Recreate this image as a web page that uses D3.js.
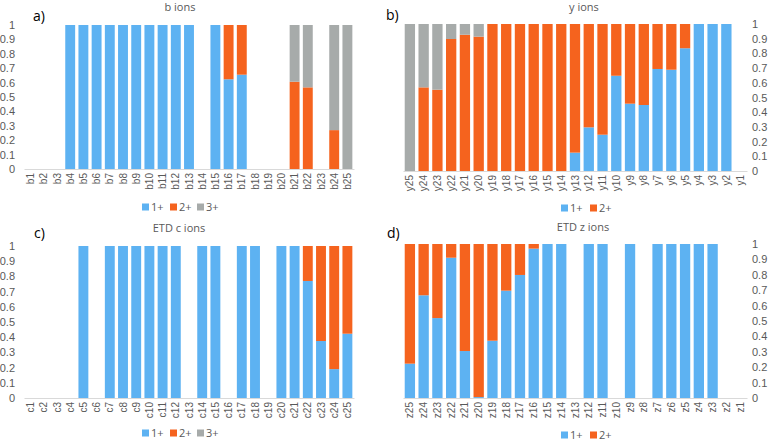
<!DOCTYPE html>
<html>
<head>
<meta charset="utf-8">
<script src="https://cdn.jsdelivr.net/npm/d3@7"></script>
<style>
  body { margin: 0; background: #fff; }
  svg { font-family: "Open Sans", "Noto Sans", sans-serif; }
</style>
</head>
<body>
<svg width="773" height="443"></svg>
<script>
// charge state fractions
const bCats = d3.range(1, 26).map(i => 'b' + i);
const bOne   = [0,0,0,1,1,1,1,1,1,1,1,1,1,0,1,0.623,0.655,0,0,0,0,0,0,0,0];
const bTwo   = [0,0,0,0,0,0,0,0,0,0,0,0,0,0,0,0.377,0.345,0,0,0,0.606,0.567,0,0.27,0];
const bThree = [0,0,0,0,0,0,0,0,0,0,0,0,0,0,0,0,0,0,0,0,0.394,0.433,0,0.73,1];

const yCats = d3.range(25, 0, -1).map(i => 'y' + i);
const yOne   = [0,0,0,0,0,0,0,0,0,0,0,0,0.125,0.297,0.247,0.648,0.458,0.449,0.694,0.689,0.835,1,1,1,0];
const yTwo   = [0,0.569,0.553,0.898,0.927,0.914,1,1,1,1,1,1,0.875,0.703,0.753,0.352,0.542,0.551,0.306,0.311,0.165,0,0,0,0];
const yThree = [1,0.431,0.447,0.102,0.073,0.086,0,0,0,0,0,0,0,0,0,0,0,0,0,0,0,0,0,0,0];

const cCats = d3.range(1, 26).map(i => 'c' + i);
const cOne   = [0,0,0,0,1,0,1,1,1,1,1,1,0,1,1,0,1,1,0,1,1,0.77,0.375,0.19,0.423];
const cTwo   = [0,0,0,0,0,0,0,0,0,0,0,0,0,0,0,0,0,0,0,0,0,0.23,0.625,0.81,0.577];
const cThree = [0,0,0,0,0,0,0,0,0,0,0,0,0,0,0,0,0,0,0,0,0,0,0,0,0];

const zCats = d3.range(25, 0, -1).map(i => 'z' + i);
const zOne   = [0.223,0.667,0.519,0.911,0.305,0.006,0.372,0.697,0.799,0.97,1,1,0,1,1,0,1,0,1,1,1,1,1,0,0];
const zTwo   = [0.777,0.333,0.481,0.089,0.695,0.994,0.628,0.303,0.201,0.03,0,0,0,0,0,0,0,0,0,0,0,0,0,0,0];

const yTicks = [0,0.1,0.2,0.3,0.4,0.5,0.6,0.7,0.8,0.9,1];
const colors = { '1+': '#5db2f2', '2+': '#f5631e', '3+': '#a7abaa' };
const textGrey = '#595959';

const svg = d3.select('svg');

function panel(opts) {
  const rows = opts.cats.map((c, i) => {
    const r = { cat: c };
    opts.keys.forEach(k => { r[k] = opts.series[k][i]; });
    return r;
  });

  const x = d3.scaleBand().domain(opts.cats).range(opts.xr).paddingInner(0.25).paddingOuter(0.125);
  const y = d3.scaleLinear().domain([0, 1]).range(opts.yr);
  const g = svg.append('g');

  const stacked = d3.stack().keys(opts.keys)(rows);
  g.selectAll('.layer')
    .data(stacked)
    .join('g')
    .attr('class', 'layer')
    .attr('fill', d => colors[d.key])
    .selectAll('rect')
    .data(d => d)
    .join('rect')
    .attr('x', d => x(d.data.cat))
    .attr('width', x.bandwidth())
    .attr('y', d => y(d[1]))
    .attr('height', d => y(d[0]) - y(d[1]));

  // x axis
  const xAxis = g.append('g')
    .attr('transform', `translate(0,${opts.yr[0]})`)
    .call(d3.axisBottom(x).tickSize(0).tickPadding(0));
  xAxis.select('.domain').attr('stroke', '#d9d9d9');
  xAxis.selectAll('text')
    .attr('transform', 'rotate(-90)')
    .attr('x', -4)
    .attr('y', 0)
    .attr('dy', '0.35em')
    .attr('text-anchor', 'end')
    .attr('fill', textGrey)
    .style('font-size', '10px');

  // y axis
  const yAxis = g.append('g')
    .attr('transform', `translate(${opts.axisX},0)`)
    .call((opts.right ? d3.axisRight(y) : d3.axisLeft(y))
      .tickValues(yTicks).tickSize(0).tickPadding(0)
      .tickFormat(d => d3.format('~g')(d)));
  yAxis.select('.domain').remove();
  yAxis.selectAll('text').attr('fill', textGrey).style('font-size', '11px');

  g.append('text')
    .attr('x', opts.titleX).attr('y', opts.titleY)
    .attr('text-anchor', 'middle')
    .attr('fill', textGrey)
    .style('font-size', '11px')
    .text(opts.title);

  g.append('text')
    .attr('x', opts.tagX).attr('y', opts.tagY)
    .attr('fill', '#000')
    .style('font-size', '14px')
    .text(opts.tag);

  const lg = g.selectAll('.leg')
    .data(opts.legKeys)
    .join('g')
    .attr('class', 'leg')
    .attr('transform', (d, i) => `translate(${opts.legX[i]},${opts.legY})`);
  lg.append('rect').attr('x', 0).attr('y', -3.5).attr('width', 7).attr('height', 7)
    .attr('fill', d => colors[d]);
  lg.append('text').attr('x', 9).attr('y', 0).attr('dy', '0.35em')
    .attr('fill', textGrey).style('font-size', '11px').text(d => d);
}

panel({
  cats: bCats, keys: ['1+', '2+', '3+'], legKeys: ['1+', '2+', '3+'],
  series: { '1+': bOne, '2+': bTwo, '3+': bThree },
  xr: [24, 354], yr: [169, 25], axisX: 15, right: false,
  title: 'b ions', titleX: 180, titleY: 11, tag: 'a)', tagX: 33, tagY: 21,
  legX: [142, 170, 197], legY: 207
});

panel({
  cats: yCats, keys: ['1+', '2+', '3+'], legKeys: ['1+', '2+'],
  series: { '1+': yOne, '2+': yTwo, '3+': yThree },
  xr: [403, 747], yr: [171, 24], axisX: 752, right: true,
  title: 'y ions', titleX: 584, titleY: 11, tag: 'b)', tagX: 386, tagY: 20,
  legX: [561, 590], legY: 208
});

panel({
  cats: cCats, keys: ['1+', '2+', '3+'], legKeys: ['1+', '2+', '3+'],
  series: { '1+': cOne, '2+': cTwo, '3+': cThree },
  xr: [24, 354], yr: [398, 246], axisX: 15, right: false,
  title: 'ETD c ions', titleX: 179, titleY: 232, tag: 'c)', tagX: 34, tagY: 238,
  legX: [142, 170, 197], legY: 433
});

panel({
  cats: zCats, keys: ['1+', '2+'], legKeys: ['1+', '2+'],
  series: { '1+': zOne, '2+': zTwo },
  xr: [403, 747], yr: [398, 244], axisX: 752, right: true,
  title: 'ETD z ions', titleX: 583, titleY: 231, tag: 'd)', tagX: 387, tagY: 238,
  legX: [561, 590], legY: 435
});
</script>
</body>
</html>
